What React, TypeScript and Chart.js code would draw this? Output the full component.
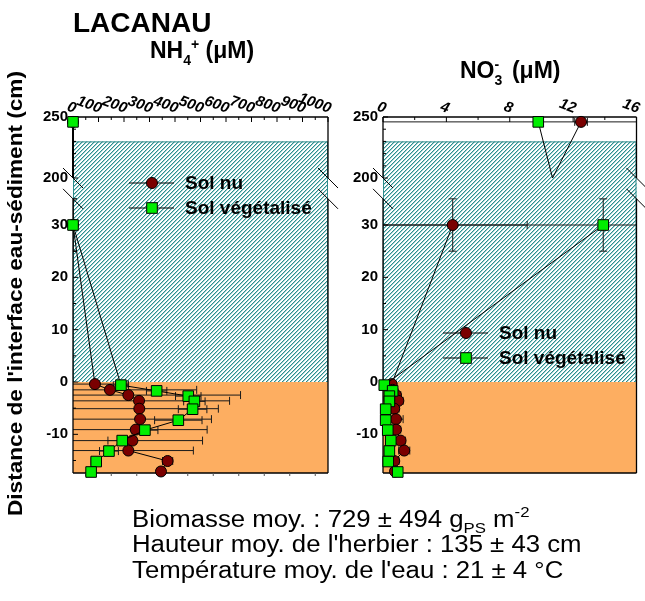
import React, { useEffect, useRef } from 'react';
import { Chart, registerables } from 'chart.js';
Chart.register(...registerables);

const W = 645;
const H = 601;
const FONT = 'Arial, "Liberation Sans", Helvetica, sans-serif';
const ORANGE = '#fdae61';
const TEAL = '#2e8b8b';
const HATCH = '#2b8f8f';
const HATCH_SOFT = '#a3cfcf';
const RED = '#7a0000';
const GREEN = '#00ee00';

// ---- data (depth in cm, concentrations in µM) ----
const depthsNu = [246, 30, -0.4, -1.5, -2.5, -3.6, -5.1, -7.1, -9.1, -11.2, -13.1, -15.1, -17.1];
const depthsVeg = [246, 30, -0.6, -1.7, -2.7, -3.7, -5.2, -7.3, -9.2, -11.2, -13.2, -15.2, -17.2];
const depthErrNu = [3, 5, 0, 0, 0, 0, 0, 0, 0, 0, 0, 0, 0];
const depthErrVeg = [0, 5, 0, 0, 0, 0, 0, 0, 0, 0, 0, 0, 0];

const nh4Nu = [0, 0, 86, 145, 217, 259, 260, 263, 246, 233, 217, 371, 345];
const nh4NuErr = [0, 0, 130, 340, 440, 355, 310, 280, 280, 275, 255, 20, 15];
const nh4Veg = [0, 0, 188, 328, 452, 476, 469, 413, 282, 193, 141, 91, 71];
const nh4VegErr = [0, 0, 30, 40, 50, 42, 56, 93, 51, 56, 37, 20, 10];

const no3Nu = [12.5, 4.4, 0.55, 0.6, 0.82, 0.97, 0.71, 0.82, 0.82, 1.11, 1.34, 0.71, 0.76];
const no3NuErr = [0.4, 4.7, 0.2, 0.3, 0.3, 0.3, 0.3, 0.45, 0.3, 0.3, 0.35, 0.3, 0.3];
const no3Veg = [9.8, 13.9, 0.08, 0.61, 0.4, 0.4, 0.17, 0.17, 0.3, 0.49, 0.4, 0.33, 0.93];
const no3VegErr = [10, 14, 0.1, 0.2, 0.2, 0.2, 0.15, 0.15, 0.2, 0.2, 0.15, 0.2, 0.3];

// where the surface-to-30 cm lines reach the axis break (x for [Sol nu, Sol végétalisé])
const BREAK_DEPTH = 200;
const nh4BreakX = [0, 0];
const no3BreakX = [10.7, 10.7];

// ---- axes ----
const nh4Labels = [0, 100, 200, 300, 400, 500, 600, 700, 800, 900, 1000];
const nh4Minor = [50, 150, 250, 350, 450, 550, 650, 750, 850, 950];
const no3Labels = [0, 4, 8, 12, 16];
const no3Minor = [2, 6, 10, 14];
const yMajor = [-10, 0, 10, 20, 30, 200, 250];
const yMinor = [-15, -5, 5, 15, 25, 210, 220, 230, 240];
const WATER_TOP = 230;
const SEDIMENT_TOP = 0;

// broken y axis: linear below LOWER_MAX, compressed from UPPER_START up
const LOWER_MAX = 35;
const UPPER_START = 200;
const UPPER_BASE = 38.98;
const UPPER_SCALE = 0.2332;
const D = (v: number) => (v <= LOWER_MAX ? v : UPPER_BASE + (v - UPPER_START) * UPPER_SCALE);
const Y_MIN = -17.39;
const Y_MAX = D(250);

let hatchCache: CanvasPattern | null = null;
function hatch(ctx: CanvasRenderingContext2D) {
  if (hatchCache) return hatchCache;
  const s = 4;
  const c = document.createElement('canvas');
  c.width = s; c.height = s;
  const p = c.getContext('2d')!;
  p.fillStyle = '#fff';
  p.fillRect(0, 0, s, s);
  for (let i = 0; i < s; i++) {
    p.fillStyle = HATCH;
    p.fillRect(i, s - 1 - i, 1, 1);
    p.fillStyle = HATCH_SOFT;
    p.fillRect(i, (s - i) % s, 1, 1);
  }
  hatchCache = ctx.createPattern(c, 'repeat');
  return hatchCache!;
}

function line(ctx: CanvasRenderingContext2D, x1: number, y1: number, x2: number, y2: number) {
  ctx.beginPath(); ctx.moveTo(x1, y1); ctx.lineTo(x2, y2); ctx.stroke();
}

function drawMarker(ctx: CanvasRenderingContext2D, kind: 'nu' | 'veg', x: number, y: number) {
  ctx.save();
  ctx.lineWidth = 1;
  ctx.strokeStyle = '#000';
  if (kind === 'nu') {
    ctx.fillStyle = RED;
    ctx.beginPath(); ctx.arc(x, y, 5.5, 0, Math.PI * 2); ctx.fill(); ctx.stroke();
  } else {
    ctx.fillStyle = GREEN;
    ctx.fillRect(x - 5.3, y - 5.3, 10.6, 10.6); ctx.strokeRect(x - 5.3, y - 5.3, 10.6, 10.6);
  }
  ctx.restore();
}

type Run = { t: string; size: number; dy: number; stay?: boolean };
function drawRuns(ctx: CanvasRenderingContext2D, runs: Run[], x: number, y: number, sx: number, bold: boolean) {
  ctx.save();
  ctx.translate(x, y);
  ctx.scale(sx, 1);
  ctx.textAlign = 'left';
  ctx.textBaseline = 'alphabetic';
  ctx.fillStyle = '#000';
  let cx = 0;
  for (const r of runs) {
    ctx.font = `${bold ? 'bold ' : ''}${r.size}px ${FONT}`;
    ctx.fillText(r.t, cx, r.dy);
    if (!r.stay) cx += ctx.measureText(r.t).width;
  }
  ctx.restore();
}

type Panel = {
  key: string; xMin: number; xMax: number; xLabels: number[]; xMinor: number[]; bottomTicks: number[];
  nu: number[]; nuErr: number[]; veg: number[]; vegErr: number[]; breakX: number[];
  padding: { left: number; right: number; top: number; bottom: number }; legend: [number, number];
};

const panels: Panel[] = [
  { key: 'nh4', xMin: 0, xMax: 1000, xLabels: nh4Labels, xMinor: nh4Minor, bottomTicks: nh4Minor,
    nu: nh4Nu, nuErr: nh4NuErr, veg: nh4Veg, vegErr: nh4VegErr, breakX: nh4BreakX,
    padding: { left: 73, right: 317, top: 117, bottom: 128 }, legend: [152, 183] },
  { key: 'no3', xMin: 0, xMax: 16, xLabels: no3Labels, xMinor: no3Minor, bottomTicks: [],
    nu: no3Nu, nuErr: no3NuErr, veg: no3Veg, vegErr: no3VegErr, breakX: no3BreakX,
    padding: { left: 383, right: 8, top: 117, bottom: 128 }, legend: [466, 333] },
];

function series(xs: number[], depths: number[], bx: number) {
  const pts: { x: number; y: number | null }[] = [
    { x: xs[0], y: D(depths[0]) },
    { x: bx, y: D(BREAK_DEPTH) },
    { x: bx, y: null },
  ];
  for (let i = 1; i < xs.length; i++) pts.push({ x: xs[i], y: D(depths[i]) });
  return pts;
}
function radii(n: number, r: number) {
  const a = [r, 0, 0];
  for (let i = 1; i < n; i++) a.push(r);
  return a;
}

function drawErrors(ctx: CanvasRenderingContext2D, chart: any, xv: number[], dv: number[], xe: number[], ye: number[]) {
  const xs = chart.scales.x, ys = chart.scales.y;
  for (let i = 0; i < xv.length; i++) {
    const cx = xs.getPixelForValue(xv[i]);
    const cy = ys.getPixelForValue(D(dv[i]));
    if (xe[i] > 0) {
      const a = xs.getPixelForValue(xv[i] - xe[i]);
      const b = xs.getPixelForValue(xv[i] + xe[i]);
      line(ctx, a, cy, b, cy);
      line(ctx, a, cy - 4, a, cy + 4);
      line(ctx, b, cy - 4, b, cy + 4);
    }
    if (ye[i] > 0) {
      const a = ys.getPixelForValue(D(dv[i] - ye[i]));
      const b = ys.getPixelForValue(D(dv[i] + ye[i]));
      line(ctx, cx, a, cx, b);
      line(ctx, cx - 4, a, cx + 4, a);
      line(ctx, cx - 4, b, cx + 4, b);
    }
  }
}

function makePlugin(p: Panel, isLeft: boolean) {
  return {
    id: 'panel_' + p.key,
    beforeDatasetsDraw(chart: any) {
      const ctx: CanvasRenderingContext2D = chart.ctx;
      const xs = chart.scales.x, ys = chart.scales.y;
      const { left, right, top, bottom } = chart.chartArea;
      const yW = ys.getPixelForValue(D(WATER_TOP));
      const y0 = ys.getPixelForValue(D(SEDIMENT_TOP));
      ctx.save();
      ctx.fillStyle = '#fff';
      ctx.fillRect(left, top, right - left, bottom - top);
      ctx.fillStyle = hatch(ctx);
      ctx.fillRect(left, yW, right - left, y0 - yW);
      ctx.strokeStyle = TEAL; ctx.lineWidth = 1;
      ctx.strokeRect(left + 0.5, yW + 0.5, right - left - 1, y0 - yW);
      ctx.fillStyle = ORANGE;
      ctx.fillRect(left, y0, right - left, bottom - y0);

      // error bars
      ctx.save();
      ctx.beginPath(); ctx.rect(left, top, right - left, bottom - top); ctx.clip();
      ctx.strokeStyle = '#1a1a1a'; ctx.lineWidth = 1;
      drawErrors(ctx, chart, p.nu, depthsNu, p.nuErr, depthErrNu);
      drawErrors(ctx, chart, p.veg, depthsVeg, p.vegErr, depthErrVeg);
      ctx.restore();

      // frame with axis break
      const yb1 = ys.getPixelForValue(D(UPPER_START));
      const yb2 = ys.getPixelForValue(D(LOWER_MAX));
      ctx.strokeStyle = '#000'; ctx.lineWidth = 1.3;
      line(ctx, left, top, right, top);
      line(ctx, left, bottom, right, bottom);
      for (const x of [left, right]) {
        line(ctx, x, top, x, yb1);
        line(ctx, x, yb2, x, bottom);
      }
      ctx.lineWidth = 1;
      for (const x of [left, right]) for (const yc of [yb1, yb2]) line(ctx, x - 10, yc - 10, x + 10, yc + 10);

      // ticks
      ctx.lineWidth = 1;
      for (const v of yMajor) { const py = ys.getPixelForValue(D(v)); line(ctx, left, py, left + 5, py); }
      for (const v of yMinor) { const py = ys.getPixelForValue(D(v)); line(ctx, left, py, left + 3, py); }
      for (const v of p.xLabels) { const px = xs.getPixelForValue(v); line(ctx, px, top, px, top + 5); }
      for (const v of p.xMinor) { const px = xs.getPixelForValue(v); line(ctx, px, top, px, top + 3); }
      ctx.strokeStyle = '#555';
      for (const v of p.bottomTicks) { const px = xs.getPixelForValue(v); line(ctx, px, bottom, px, bottom + 3); }

      // tick labels
      ctx.fillStyle = '#000';
      ctx.font = `bold 15px ${FONT}`;
      ctx.textAlign = 'right'; ctx.textBaseline = 'middle';
      for (const v of yMajor) ctx.fillText(String(v), left - 5, ys.getPixelForValue(D(v)));
      ctx.font = `italic bold 15px ${FONT}`;
      ctx.textBaseline = 'alphabetic';
      for (const v of p.xLabels) {
        ctx.save();
        ctx.translate(xs.getPixelForValue(v) + 1, top - 4);
        ctx.rotate(0.35);
        ctx.fillText(String(v), 0, 0);
        ctx.restore();
      }
      ctx.restore();
    },
    afterDraw(chart: any) {
      const ctx: CanvasRenderingContext2D = chart.ctx;
      ctx.save();
      // legend
      const [lx, ly] = p.legend;
      const items: ['nu' | 'veg', string, number][] = [['nu', 'Sol nu', ly], ['veg', 'Sol végétalisé', ly + 25]];
      for (const [kind, label, y] of items) {
        ctx.strokeStyle = '#000'; ctx.lineWidth = 1;
        line(ctx, lx - 23, y, lx + 22, y);
        drawMarker(ctx, kind, lx, y);
        ctx.fillStyle = '#000';
        ctx.font = `bold 19px ${FONT}`;
        ctx.textAlign = 'left'; ctx.textBaseline = 'middle';
        ctx.fillText(label, lx + 33, y + 1);
      }
      if (isLeft) {
        ctx.fillStyle = '#000';
        ctx.font = `bold 28px ${FONT}`;
        ctx.textAlign = 'left'; ctx.textBaseline = 'alphabetic';
        ctx.fillText('LACANAU', 73, 32);
        drawRuns(ctx, [
          { t: 'NH', size: 23, dy: 0 },
          { t: '4', size: 14, dy: 7 },
          { t: '+', size: 14, dy: -9 },
          { t: ' (μM)', size: 23, dy: 0 },
        ], 150, 58, 1, true);
        // y axis title
        ctx.save();
        ctx.translate(16, 293.5);
        ctx.rotate(-Math.PI / 2);
        ctx.scale(1.13, 1);
        ctx.font = `bold 20px ${FONT}`;
        ctx.textAlign = 'center'; ctx.textBaseline = 'middle';
        ctx.fillText("Distance de l'interface eau-sédiment (cm)", 0, 0);
        ctx.restore();
        // notes
        drawRuns(ctx, [
          { t: 'Biomasse moy. : 729 ± 494 g', size: 23, dy: 0 },
          { t: 'PS', size: 15, dy: 6 },
          { t: ' m', size: 23, dy: 0 },
          { t: '-2', size: 15, dy: -10 },
        ], 132, 527, 1.12, false);
        drawRuns(ctx, [{ t: "Hauteur moy. de l'herbier : 135 ± 43 cm", size: 23, dy: 0 }], 132, 552, 1.12, false);
        drawRuns(ctx, [{ t: "Température moy. de l'eau : 21 ± 4 °C", size: 23, dy: 0 }], 132, 578, 1.12, false);
      } else {
        drawRuns(ctx, [
          { t: 'NO', size: 23, dy: 0 },
          { t: '3', size: 14, dy: 7, stay: true },
          { t: '-', size: 14, dy: -9 },
          { t: '  (μM)', size: 23, dy: 0 },
        ], 460, 78, 1, true);
      }
      ctx.restore();
    },
  };
}

function makeConfig(p: Panel, isLeft: boolean): any {
  const n = p.nu.length;
  return {
    type: 'line',
    data: {
      datasets: [
        {
          label: 'Sol végétalisé',
          data: series(p.veg, depthsVeg, p.breakX[1]),
          borderColor: '#000', borderWidth: 1, tension: 0, fill: false, spanGaps: false, clip: false,
          pointStyle: 'rect', pointRadius: radii(n, 7.5), pointBackgroundColor: GREEN,
          pointBorderColor: '#000', pointBorderWidth: 1,
        },
        {
          label: 'Sol nu',
          data: series(p.nu, depthsNu, p.breakX[0]),
          borderColor: '#000', borderWidth: 1, tension: 0, fill: false, spanGaps: false, clip: false,
          pointStyle: 'circle', pointRadius: radii(n, 5.5), pointBackgroundColor: RED,
          pointBorderColor: '#000', pointBorderWidth: 1,
        },
      ],
    },
    options: {
      animation: false,
      responsive: false,
      maintainAspectRatio: false,
      events: [],
      layout: { padding: p.padding },
      scales: {
        x: { type: 'linear', display: false, min: p.xMin, max: p.xMax },
        y: { type: 'linear', display: false, min: Y_MIN, max: Y_MAX },
      },
      plugins: { legend: { display: false }, tooltip: { enabled: false }, title: { display: false } },
    },
    plugins: [makePlugin(p, isLeft)],
  };
}

export default function App() {
  const leftRef = useRef<HTMLCanvasElement>(null);
  const rightRef = useRef<HTMLCanvasElement>(null);
  useEffect(() => {
    const c1 = new Chart(leftRef.current!, makeConfig(panels[0], true));
    const c2 = new Chart(rightRef.current!, makeConfig(panels[1], false));
    return () => { c1.destroy(); c2.destroy(); };
  }, []);
  return (
    <div style={{ position: 'absolute', left: 0, top: 0, width: W, height: H, background: '#fff' }}>
      <canvas ref={leftRef} width={W} height={H} style={{ position: 'absolute', left: 0, top: 0 }} />
      <canvas ref={rightRef} width={W} height={H} style={{ position: 'absolute', left: 0, top: 0 }} />
    </div>
  );
}
